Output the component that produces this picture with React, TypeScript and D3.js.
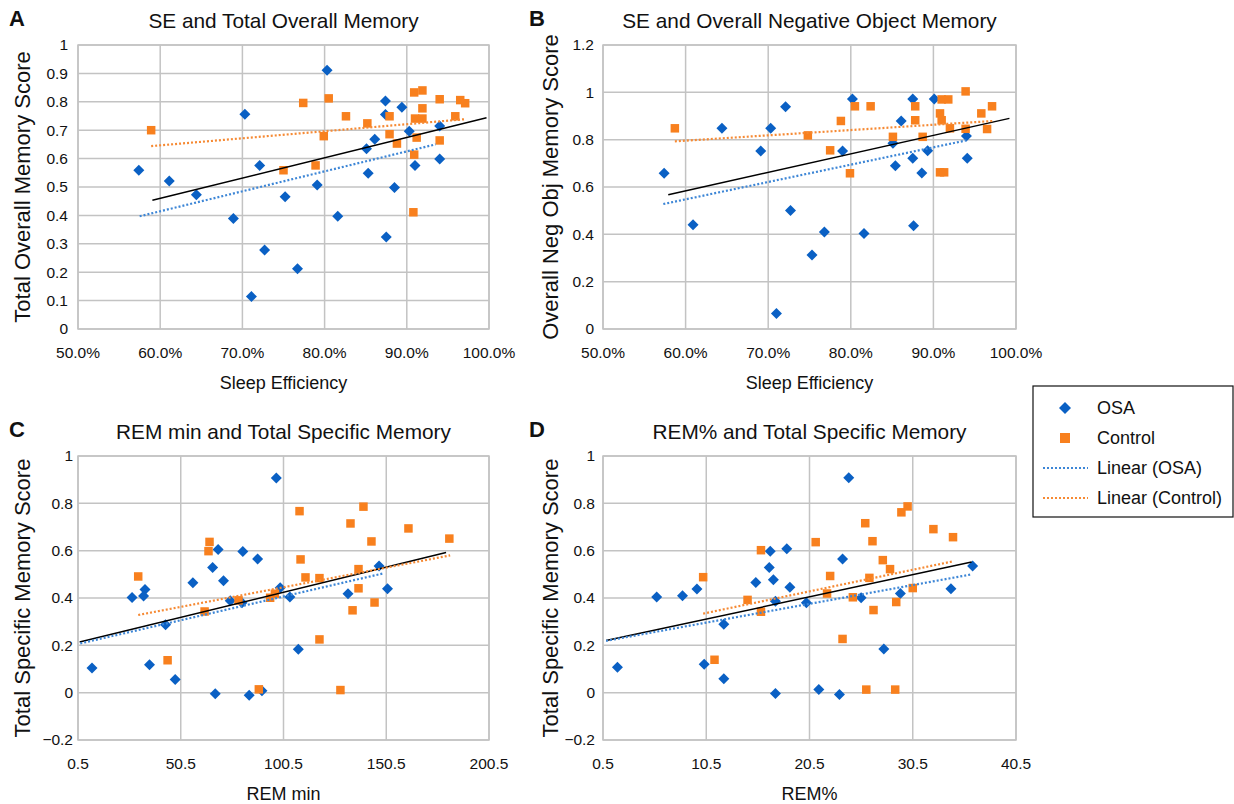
import React from "react";
import * as d3 from "d3";

type Pt = [number, number];

// panel A: sleep efficiency vs total overall memory
const aOsa: Pt[] = [[57.4,0.559],[61.1,0.521],[64.4,0.473],[68.9,0.389],[70.3,0.756],[71.1,0.114],[72.1,0.576],[72.7,0.278],[75.2,0.466],[76.7,0.212],[79.1,0.507],[80.3,0.911],[81.6,0.397],[85.1,0.635],[85.3,0.548],[86.1,0.668],[87.4,0.803],[87.4,0.755],[87.5,0.324],[88.5,0.498],[89.4,0.781],[90.3,0.696],[91.0,0.576],[94.0,0.715],[94.0,0.599]];
const aControl: Pt[] = [[58.9,0.70],[75.0,0.559],[77.4,0.796],[78.9,0.576],[79.9,0.679],[80.5,0.812],[82.6,0.749],[85.2,0.724],[87.9,0.749],[87.9,0.686],[88.8,0.653],[90.8,0.411],[90.9,0.833],[90.9,0.614],[91.0,0.741],[91.2,0.674],[91.9,0.840],[91.9,0.777],[91.9,0.741],[94.0,0.809],[94.0,0.664],[95.9,0.749],[96.5,0.806],[97.1,0.795]];
const aTrendOsa: Pt[] = [[57.5,0.397],[93.5,0.650]];
const aTrendControl: Pt[] = [[58.9,0.644],[97.2,0.739]];
const aTrendAll: Pt[] = [[59.05,0.453],[99.7,0.744]];

// panel B: sleep efficiency vs negative object memory
const bOsa: Pt[] = [[57.4,0.658],[60.9,0.441],[64.4,0.848],[69.1,0.752],[70.3,0.848],[71.0,0.065],[72.1,0.939],[72.7,0.501],[75.3,0.313],[76.8,0.410],[79.0,0.752],[80.2,0.972],[81.6,0.404],[85.1,0.785],[85.4,0.690],[86.1,0.879],[87.5,0.972],[87.5,0.721],[87.6,0.436],[88.6,0.659],[89.3,0.753],[90.1,0.972],[94.0,0.815],[94.1,0.721]];
const bControl: Pt[] = [[58.7,0.848],[74.8,0.818],[77.5,0.755],[78.8,0.879],[79.9,0.658],[80.5,0.941],[82.4,0.941],[85.1,0.812],[87.8,0.941],[87.8,0.882],[88.7,0.812],[90.8,0.911],[91.0,0.882],[91.0,0.970],[91.8,0.970],[90.8,0.662],[91.3,0.662],[92.0,0.848],[93.9,1.004],[93.9,0.846],[95.8,0.911],[96.5,0.845],[97.1,0.941]];
const bTrendOsa: Pt[] = [[57.3,0.528],[94.0,0.797]];
const bTrendControl: Pt[] = [[58.7,0.793],[97.2,0.879]];
const bTrendAll: Pt[] = [[57.9,0.567],[99.2,0.890]];

// panel C: REM minutes vs total specific memory
const cOsa: Pt[] = [[7.3,0.104],[26.8,0.402],[32.4,0.408],[33.1,0.436],[35.3,0.118],[43.1,0.287],[47.8,0.056],[56.4,0.464],[66.0,0.529],[67.3,-0.005],[68.7,0.605],[71.3,0.473],[74.6,0.388],[80.3,0.380],[80.7,0.597],[83.8,-0.011],[87.9,0.565],[90.0,0.008],[97.0,0.907],[98.9,0.443],[103.6,0.404],[107.7,0.183],[131.9,0.418],[147.0,0.535],[151.1,0.439]];
const cControl: Pt[] = [[29.8,0.491],[44.1,0.137],[62.1,0.343],[64.0,0.598],[64.5,0.637],[78.6,0.390],[88.5,0.014],[94.0,0.401],[96.3,0.418],[108.3,0.767],[108.8,0.563],[111.2,0.487],[118.0,0.484],[118.0,0.225],[128.2,0.011],[133.1,0.715],[134.1,0.348],[137.0,0.522],[137.0,0.441],[139.4,0.786],[143.3,0.639],[144.8,0.381],[161.3,0.694],[181.2,0.651]];
const cTrendOsa: Pt[] = [[1.6,0.208],[149.1,0.504]];
const cTrendControl: Pt[] = [[29.8,0.328],[181.6,0.580]];
const cTrendAll: Pt[] = [[1.3,0.214],[179.6,0.592]];

// panel D: REM% vs total specific memory
const dOsa: Pt[] = [[1.9,0.107],[5.7,0.404],[8.2,0.410],[9.6,0.438],[10.3,0.120],[12.2,0.289],[12.2,0.059],[15.3,0.466],[16.6,0.529],[16.7,0.598],[17.0,0.477],[17.2,0.386],[17.2,-0.003],[18.3,0.608],[18.6,0.445],[20.2,0.380],[21.4,0.013],[23.4,-0.008],[23.7,0.565],[24.3,0.908],[25.5,0.401],[27.7,0.184],[29.3,0.419],[34.2,0.439],[36.3,0.535]];
const dControl: Pt[] = [[10.2,0.488],[11.3,0.139],[14.5,0.392],[15.8,0.602],[15.8,0.342],[21.1,0.636],[22.2,0.419],[22.5,0.493],[23.7,0.227],[24.7,0.403],[25.9,0.716],[26.0,0.013],[26.3,0.485],[26.6,0.640],[26.7,0.349],[27.6,0.560],[28.3,0.522],[28.8,0.013],[28.9,0.383],[29.4,0.762],[30.0,0.787],[30.5,0.442],[32.5,0.691],[34.4,0.657]];
const dTrendOsa: Pt[] = [[0.8,0.219],[36.1,0.499]];
const dTrendControl: Pt[] = [[10.2,0.334],[34.3,0.554]];
const dTrendAll: Pt[] = [[0.8,0.220],[36.2,0.552]];

// ticks
const seTicks = [50, 60, 70, 80, 90, 100];
const remMinTicks = [0.5, 50.5, 100.5, 150.5, 200.5];
const remPctTicks = [0.5, 10.5, 20.5, 30.5, 40.5];
const tenthTicks = [0, 0.1, 0.2, 0.3, 0.4, 0.5, 0.6, 0.7, 0.8, 0.9, 1];
const negObjTicks = [0, 0.2, 0.4, 0.6, 0.8, 1, 1.2];
const specificTicks = [-0.2, 0, 0.2, 0.4, 0.6, 0.8, 1];

const legendItems = ["OSA", "Control", "Linear (OSA)", "Linear (Control)"];

const BLUE = "#0a60c4";
const ORANGE = "#f8801e";
const TREND_BLUE = "#3d86d6";
const TREND_ORANGE = "#f68a34";
const GRID = "#c3c3c3";
const FONT = "'Liberation Sans', Arial, Helvetica, sans-serif";

const fmtNum = (v: number) => {
  const s = d3.format("~g")(+v.toFixed(2));
  return s.replace("-", "\u2212");
};
const fmtPct = (v: number) => v.toFixed(1) + "%";

function Diamond({ x, y, r }: { x: number; y: number; r: number }) {
  return <path d={`M${x},${y - r}L${x + r},${y}L${x},${y + r}L${x - r},${y}Z`} fill={BLUE} />;
}

function Square({ x, y, s }: { x: number; y: number; s: number }) {
  return <rect x={x - s / 2} y={y - s / 2} width={s} height={s} fill={ORANGE} />;
}

type PanelProps = {
  letter: string;
  letterX: number;
  title: string;
  xLabel: string;
  yLabel: string;
  box: { x0: number; x1: number; y0: number; y1: number };
  xDomain: [number, number];
  xTicks: number[];
  xFmt: (v: number) => string;
  yDomain: [number, number];
  yTicks: number[];
  yLabelX: number;
  yTickGap: number;
  osa: Pt[];
  control: Pt[];
  trendOsa: Pt[];
  trendControl: Pt[];
  trendAll: Pt[];
};

function Panel(p: PanelProps) {
  const { box } = p;
  const x = d3.scaleLinear().domain(p.xDomain).range([box.x0, box.x1]);
  const y = d3.scaleLinear().domain(p.yDomain).range([box.y1, box.y0]);
  const line = d3
    .line<Pt>()
    .x((d) => x(d[0]))
    .y((d) => y(d[1]));
  const cx = (box.x0 + box.x1) / 2;
  const cy = (box.y0 + box.y1) / 2;

  return (
    <g fontFamily={FONT} fill="#111">
      <text x={p.letterX} y={box.y0 - 19} fontSize={22} fontWeight="bold">
        {p.letter}
      </text>
      <text x={cx} y={box.y0 - 17} fontSize={20.8} textAnchor="middle">
        {p.title}
      </text>

      {/* grid */}
      {p.yTicks.map((t) => (
        <line key={"gy" + t} x1={box.x0} x2={box.x1} y1={y(t)} y2={y(t)} stroke={GRID} strokeWidth={1.5} />
      ))}
      {p.xTicks.map((t) => (
        <line key={"gx" + t} x1={x(t)} x2={x(t)} y1={box.y0} y2={box.y1} stroke={GRID} strokeWidth={1.5} />
      ))}
      <rect x={box.x0} y={box.y0} width={box.x1 - box.x0} height={box.y1 - box.y0} fill="none" stroke={GRID} strokeWidth={1.5} />

      {/* tick labels */}
      {p.yTicks.map((t) => (
        <text key={"ly" + t} x={box.x0 - p.yTickGap} y={y(t)} dy="0.35em" fontSize={15.5} textAnchor="end">
          {fmtNum(t)}
        </text>
      ))}
      {p.xTicks.map((t) => (
        <text key={"lx" + t} x={x(t)} y={box.y1 + 24} dy="0.35em" fontSize={15.5} textAnchor="middle">
          {p.xFmt(t)}
        </text>
      ))}

      <text x={cx} y={box.y1 + 54} dy="0.35em" fontSize={18} textAnchor="middle">
        {p.xLabel}
      </text>
      <text
        transform={`translate(${p.yLabelX},${cy}) rotate(-90)`}
        dy="0.35em"
        fontSize={22}
        textAnchor="middle"
      >
        {p.yLabel}
      </text>

      {/* markers */}
      {p.osa.map((d, i) => (
        <Diamond key={"o" + i} x={x(d[0])} y={y(d[1])} r={5.5} />
      ))}
      {p.control.map((d, i) => (
        <Square key={"c" + i} x={x(d[0])} y={y(d[1])} s={8.5} />
      ))}

      {/* trend lines */}
      <path d={line(p.trendAll) || ""} stroke="#000" strokeWidth={1.5} fill="none" />
      <path d={line(p.trendOsa) || ""} stroke={TREND_BLUE} strokeWidth={2.2} strokeDasharray="2,2" fill="none" />
      <path d={line(p.trendControl) || ""} stroke={TREND_ORANGE} strokeWidth={2.2} strokeDasharray="2,2" fill="none" />
    </g>
  );
}

function Legend() {
  const x0 = 1033;
  const y0 = 386;
  const rowY = d3.scalePoint<string>().domain(legendItems).range([408, 498]);
  return (
    <g fontFamily={FONT}>
      <rect x={x0} y={y0} width={200} height={131} fill="#fff" stroke="#111" strokeWidth={1.2} />
      <Diamond x={1065} y={rowY("OSA")!} r={6} />
      <Square x={1065} y={rowY("Control")!} s={10} />
      <line x1={1043} x2={1088} y1={rowY("Linear (OSA)")!} y2={rowY("Linear (OSA)")!} stroke={TREND_BLUE} strokeWidth={2} strokeDasharray="2,2" />
      <line x1={1043} x2={1088} y1={rowY("Linear (Control)")!} y2={rowY("Linear (Control)")!} stroke={TREND_ORANGE} strokeWidth={2} strokeDasharray="2,2" />
      {legendItems.map((t) => (
        <text key={t} x={1097} y={rowY(t)!} dy="0.35em" fontSize={18} fill="#111">
          {t}
        </text>
      ))}
    </g>
  );
}

export default function App() {
  return (
    <svg width={1234} height={804} style={{ position: "absolute", left: 0, top: 0, background: "#fff" }}>
      <rect width={1234} height={804} fill="#fff" />
      <Panel
        letter="A"
        letterX={9}
        title="SE and Total Overall Memory"
        xLabel="Sleep Efficiency"
        yLabel="Total Overall Memory Score"
        box={{ x0: 78, x1: 489, y0: 45, y1: 329 }}
        xDomain={[50, 100]}
        xTicks={seTicks}
        xFmt={fmtPct}
        yDomain={[0, 1]}
        yTicks={tenthTicks}
        yLabelX={22}
        yTickGap={10}
        osa={aOsa}
        control={aControl}
        trendOsa={aTrendOsa}
        trendControl={aTrendControl}
        trendAll={aTrendAll}
      />
      <Panel
        letter="B"
        letterX={529}
        title="SE and Overall Negative Object Memory"
        xLabel="Sleep Efficiency"
        yLabel="Overall Neg Obj Memory Score"
        box={{ x0: 603, x1: 1016, y0: 45, y1: 329 }}
        xDomain={[50, 100]}
        xTicks={seTicks}
        xFmt={fmtPct}
        yDomain={[0, 1.2]}
        yTicks={negObjTicks}
        yLabelX={550}
        yTickGap={9}
        osa={bOsa}
        control={bControl}
        trendOsa={bTrendOsa}
        trendControl={bTrendControl}
        trendAll={bTrendAll}
      />
      <Panel
        letter="C"
        letterX={9}
        title="REM min and Total Specific Memory"
        xLabel="REM min"
        yLabel="Total Specific Memory Score"
        box={{ x0: 78, x1: 489, y0: 456, y1: 740 }}
        xDomain={[0.5, 200.5]}
        xTicks={remMinTicks}
        xFmt={(v) => String(v)}
        yDomain={[-0.2, 1]}
        yTicks={specificTicks}
        yLabelX={22}
        yTickGap={5}
        osa={cOsa}
        control={cControl}
        trendOsa={cTrendOsa}
        trendControl={cTrendControl}
        trendAll={cTrendAll}
      />
      <Panel
        letter="D"
        letterX={529}
        title="REM% and Total Specific Memory"
        xLabel="REM%"
        yLabel="Total Specific Memory Score"
        box={{ x0: 603, x1: 1016, y0: 456, y1: 740 }}
        xDomain={[0.5, 40.5]}
        xTicks={remPctTicks}
        xFmt={(v) => String(v)}
        yDomain={[-0.2, 1]}
        yTicks={specificTicks}
        yLabelX={550}
        yTickGap={8}
        osa={dOsa}
        control={dControl}
        trendOsa={dTrendOsa}
        trendControl={dTrendControl}
        trendAll={dTrendAll}
      />
      <Legend />
    </svg>
  );
}
